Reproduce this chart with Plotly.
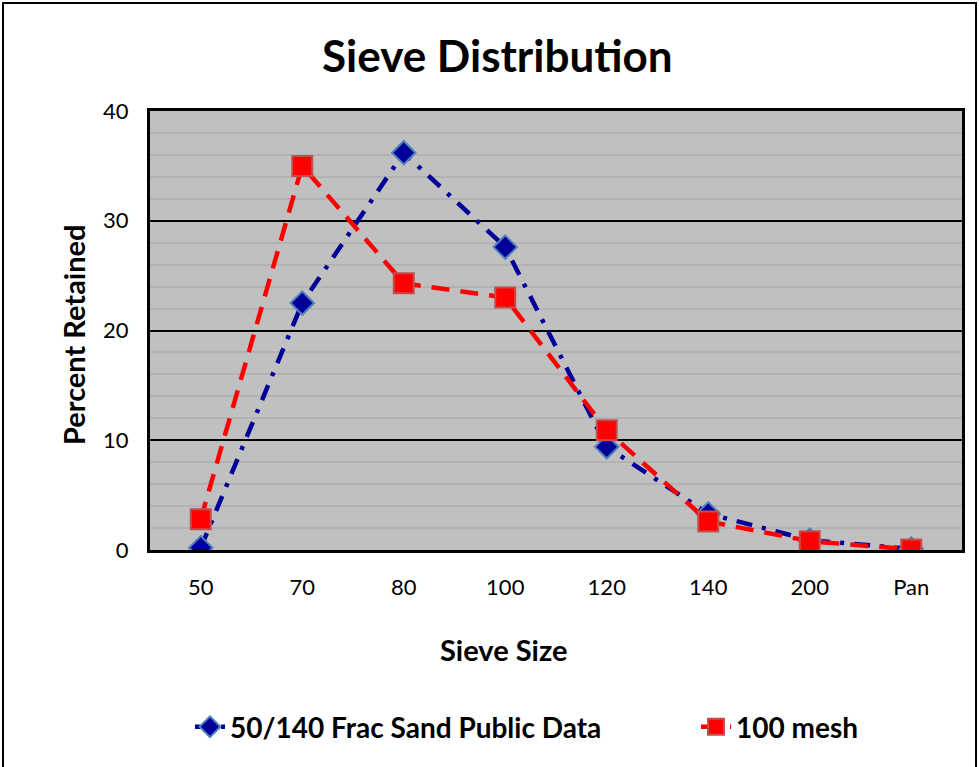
import plotly.graph_objects as go

categories = ["50", "70", "80", "100", "120", "140", "200", "Pan"]
frac_sand = [0.2, 22.5, 36.2, 27.6, 9.4, 3.3, 0.9, 0.1]
mesh100 = [2.8, 35.0, 24.3, 23.0, 10.9, 2.6, 0.8, 0.05]

W, H = 979, 767
L, R, T, B = 150, 17, 111, 217
pw, ph = W - L - R, H - T - B

def px_x(p):
    return (p - L) / pw

def px_y(p):
    return (H - B - p) / ph

FONT = "Lato"

fig = go.Figure()
fig.add_trace(go.Scatter(
    x=categories, y=frac_sand, name="50/140 Frac Sand Public Data",
    mode="lines+markers", legend="legend",
    line=dict(color="#000099", width=4.5, dash="16px,10px,4px,10px"),
    marker=dict(symbol="diamond", size=18, color="#000099",
                line=dict(color="#4f81bd", width=2)),
))
fig.add_trace(go.Scatter(
    x=categories, y=mesh100, name="100 mesh",
    mode="lines+markers", legend="legend2",
    line=dict(color="#ff0000", width=4.5, dash="18px,11px"),
    marker=dict(symbol="square", size=20, color="#ff0000",
                line=dict(color="#c0504d", width=2)),
))

legend_font = dict(family=FONT, size=28, color="black", weight="bold")

fig.update_layout(
    width=W, height=H,
    margin=dict(l=L, r=R, t=T, b=B),
    paper_bgcolor="white",
    plot_bgcolor="#c0c0c0",
    font=dict(family=FONT, color="black", size=22),
    showlegend=True,
    legend=dict(orientation="h", x=px_x(190), xanchor="left", y=px_y(727), yanchor="middle",
                font=legend_font, bgcolor="rgba(0,0,0,0)"),
    legend2=dict(orientation="h", x=px_x(696), xanchor="left", y=px_y(727), yanchor="middle",
                 font=legend_font, bgcolor="rgba(0,0,0,0)"),
    xaxis=dict(
        type="category", range=[-0.5, 7.5],
        showgrid=False, showline=True, linecolor="black", linewidth=3, mirror=True,
        ticks="", tickfont=dict(size=22), ticklabelstandoff=16,
        zeroline=False,
    ),
    yaxis=dict(
        range=[0, 40], dtick=10, showgrid=True, gridcolor="black", gridwidth=2,
        showline=True, linecolor="black", linewidth=3, mirror=True,
        ticks="", tickfont=dict(size=22), ticklabelstandoff=14, zeroline=False,
        minor=dict(dtick=2, showgrid=True, gridcolor="#b2b2b2", gridwidth=1.5),
    ),
    annotations=[
        dict(text="<b>Sieve Distribution</b>", x=px_x(497), xref="paper", y=px_y(55), yref="paper",
             xanchor="center", yanchor="middle", showarrow=False,
             font=dict(size=44, family=FONT, color="black")),
        dict(text="<b>Percent Retained</b>", x=px_x(73), xref="paper", y=px_y(335), yref="paper",
             xanchor="center", yanchor="middle", showarrow=False, textangle=-90,
             font=dict(size=29, family=FONT, color="black")),
        dict(text="<b>Sieve Size</b>", x=px_x(503), xref="paper", y=px_y(649), yref="paper",
             xanchor="center", yanchor="middle", showarrow=False,
             font=dict(size=29, family=FONT, color="black")),
    ],
    shapes=[
        dict(type="rect", xref="paper", yref="paper",
             x0=px_x(3), x1=px_x(976), y0=px_y(790), y1=px_y(3),
             line=dict(color="black", width=2), fillcolor="rgba(0,0,0,0)", layer="below"),
    ],
)

fig.write_html("out.html", config={"displayModeBar": False},
               post_script="document.body.style.margin='0';document.body.style.overflow='hidden';")
